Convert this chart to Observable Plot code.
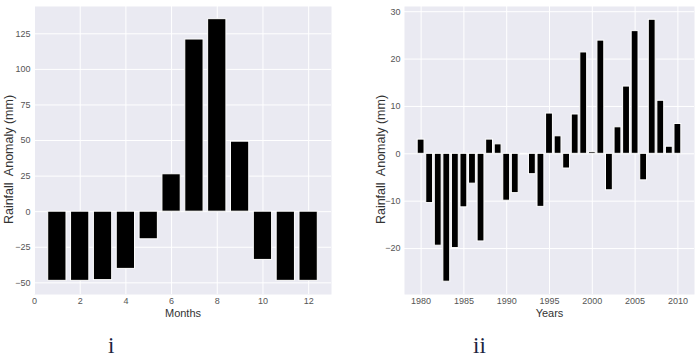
<!DOCTYPE html>
<html>
<head>
<meta charset="utf-8">
<script src="https://cdn.jsdelivr.net/npm/d3@7"></script>
<script src="https://cdn.jsdelivr.net/npm/@observablehq/plot@0.6"></script>
<style>
  html, body { margin: 0; padding: 0; background: #ffffff; }
  #wrap { position: relative; width: 700px; height: 359px; overflow: hidden; }
  .panel { position: absolute; top: 0; }
  .tag { position: absolute; font-family: "Liberation Serif", "DejaVu Serif", serif; font-size: 23px; color: #1b2440; line-height: 1; }
</style>
</head>
<body>
<div id="wrap"></div>
<script>
// Panel i: monthly rainfall anomaly
const months = [1, 2, 3, 4, 5, 6, 7, 8, 9, 10, 11, 12];
const monthAnomaly = [-48.6, -48.6, -48.1, -40.2, -19.4, 26.3, 121, 135.3, 49.2, -33.9, -48.6, -48.6];
const monthTicksX = [0, 2, 4, 6, 8, 10, 12];
const monthTicksY = [-50, -25, 0, 25, 50, 75, 100, 125];

// Panel ii: yearly rainfall anomaly
const years = [1980, 1981, 1982, 1983, 1984, 1985, 1986, 1987, 1988, 1989,
               1990, 1991, 1992, 1993, 1994, 1995, 1996, 1997, 1998, 1999,
               2000, 2001, 2002, 2003, 2004, 2005, 2006, 2007, 2008, 2009, 2010];
const yearAnomaly = [3.0, -10.4, -19.4, -27.0, -19.9, -11.3, -6.3, -18.5, 3.0, 2.0,
                     -9.9, -8.3, -0.15, -4.3, -11.2, 8.5, 3.7, -3.1, 8.3, 21.4,
                     0.35, 23.9, -7.7, 5.6, 14.2, 25.9, -5.6, 28.3, 11.2, 1.5, 6.3];
const yearTicksX = [1980, 1985, 1990, 1995, 2000, 2005, 2010];
const yearTicksY = [-20, -10, 0, 10, 20, 30];

const fmt = d3.format("d");
const BG = "#EAEAF2";

function panel({xs, ys, xTicks, yTicks, xDomain, yDomain, xLabel, yLabel, width, marginLeft, marginRight, yLabelX}) {
  const data = xs.map((x, i) => ({x, y: ys[i]}));
  return Plot.plot({
    width,
    height: 322,
    marginLeft,
    marginRight,
    marginTop: 6,
    marginBottom: 28,
    style: {fontFamily: "'Liberation Sans', Arial, sans-serif", fontSize: "9px", color: "#555", background: "transparent"},
    x: {domain: xDomain, ticks: xTicks, tickFormat: fmt, tickSize: 0, tickPadding: 3, label: null},
    y: {domain: yDomain, ticks: yTicks, tickFormat: fmt, tickSize: 0, tickPadding: 4, label: null},
    marks: [
      Plot.frame({fill: BG, stroke: null}),
      Plot.ruleX(xTicks, {stroke: "#ffffff", strokeWidth: 1}),
      Plot.ruleY(yTicks, {stroke: "#ffffff", strokeWidth: 1}),
      Plot.rect(data, {x1: d => d.x - 0.4, x2: d => d.x + 0.4, y1: 0, y2: "y", fill: "#000000", stroke: "#ffffff", strokeWidth: 1}),
      Plot.text([xLabel], {frameAnchor: "bottom", dy: 22, fontSize: 11, fill: "#333", text: d => d}),
      Plot.text([yLabel], {frameAnchor: "left", textAnchor: "middle", dx: yLabelX - marginLeft, dy: 9, rotate: -90, fontSize: 12.5, fill: "#333", text: d => d})
    ]
  });
}

const wrap = document.getElementById("wrap");

const p1 = panel({
  xs: months, ys: monthAnomaly, xTicks: monthTicksX, yTicks: monthTicksY,
  xDomain: [0, 13], yDomain: [-58.2, 144.2],
  xLabel: "Months", yLabel: "Rainfall  Anomaly (mm)",
  width: 350, marginLeft: 34, marginRight: 19, yLabelX: 8
});
p1.classList.add("panel");
p1.style.left = "0px";
wrap.appendChild(p1);

const p2 = panel({
  xs: years, ys: yearAnomaly, xTicks: yearTicksX, yTicks: yearTicksY,
  xDomain: [1978.06, 2011.94], yDomain: [-29.7, 31.1],
  xLabel: "Years", yLabel: "Rainfall  Anomaly (mm)",
  width: 350, marginLeft: 54, marginRight: 6, yLabelX: 30
});
p2.classList.add("panel");
p2.style.left = "350px";
wrap.appendChild(p2);

const t1 = document.createElement("div");
t1.className = "tag"; t1.textContent = "i";
t1.style.left = "108px"; t1.style.top = "334px";
wrap.appendChild(t1);

const t2 = document.createElement("div");
t2.className = "tag"; t2.textContent = "ii";
t2.style.left = "473px"; t2.style.top = "334px";
wrap.appendChild(t2);
</script>
</body>
</html>
